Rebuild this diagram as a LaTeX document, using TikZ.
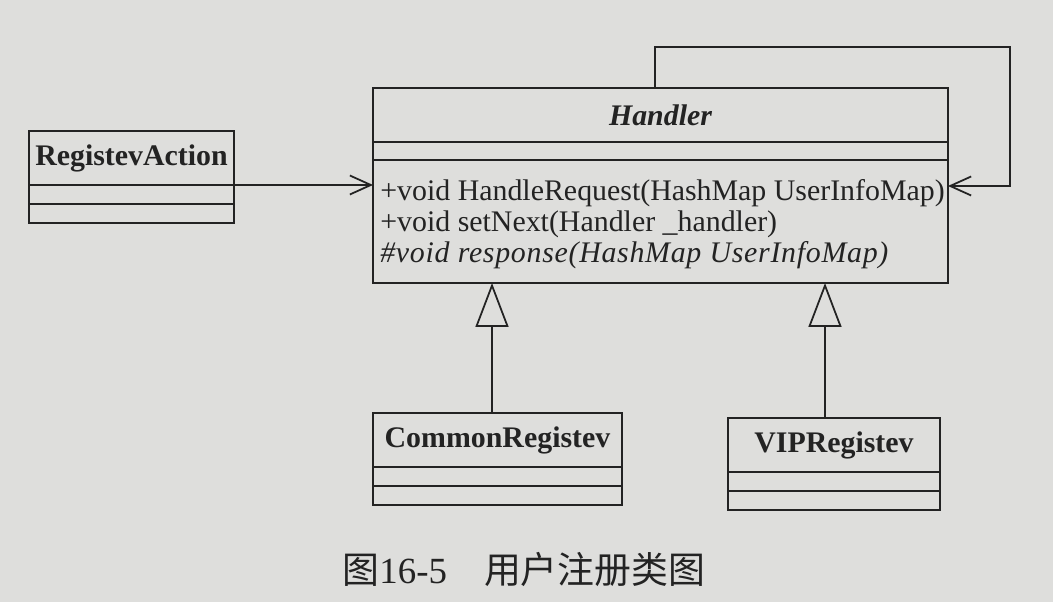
\documentclass[tikz,border=0pt]{standalone}
\usepackage{fontspec}
\setmainfont{Liberation Serif}
\newfontfamily\cjk{Noto Sans CJK SC}
\usetikzlibrary{arrows.meta,positioning}
\definecolor{bgpaper}{RGB}{222,222,220}
\definecolor{ink}{RGB}{35,35,35}

\begin{document}
\begin{tikzpicture}[
  classtitle/.style={draw=ink, line width=1pt, inner sep=0pt, outer sep=0pt, minimum height=1.08cm, text=ink, font=\fontsize{17}{19}\selectfont\bfseries},
  compart/.style={draw=ink, line width=1pt, inner sep=0pt, outer sep=0pt, minimum height=0.38cm},
  methods/.style={inner sep=0pt, align=left, text=ink, font=\fontsize{17}{17.8}\selectfont},
  assoc/.style={draw=ink, line width=1pt, -{Straight Barb[length=0.42cm,width=0.38cm]}},
  inherit/.style={draw=ink, line width=1pt, -{Triangle[length=0.88cm,width=0.66cm,fill=bgpaper]}}
]

% Background
\fill[bgpaper] (0,0) rectangle (21.06,12.04);
\useasboundingbox (0,0) rectangle (21.06,12.04);

% === HANDLER (abstract) ===
\node[classtitle, minimum width=11.5cm, anchor=north west, font=\fontsize{17}{19}\selectfont\bfseries\itshape] (handler) at (7.46,10.28) {Handler};
\node[compart, minimum width=11.5cm, minimum height=0.36cm, below=0pt of handler] (handler-attr) {};
\node[compart, minimum width=11.5cm, minimum height=2.46cm, below=0pt of handler-attr] (handler-ops) {};
\node[methods, anchor=north west] (handler-text) at (7.60,8.46) {+void HandleRequest(HashMap UserInfoMap)\\
  +void setNext(Handler \_handler)\\
  {\itshape\addfontfeatures{LetterSpace=2.4}\#void response(HashMap UserInfoMap)}};

% === PLAIN CLASSES ===
\foreach \n/\t/\x/\y/\w in {action/RegistevAction/0.58/9.42/4.10,
    common/CommonRegistev/7.46/3.78/4.98,
    vip/VIPRegistev/14.56/3.68/4.24} {
  \node[classtitle, minimum width=\w cm, anchor=north west] (\n) at (\x,\y) {\t};
  \node[compart, minimum width=\w cm, below=0pt of \n] (\n-attr) {};
  \node[compart, minimum width=\w cm, below=0pt of \n-attr] (\n-ops) {};
}

% === ASSOCIATIONS ===
\draw[assoc] (action.south east) -- (action.south east -| handler-ops.west);

\coordinate (loopcorner) at (13.10,11.10);
\coordinate (loopside) at (20.20,8.32);
\draw[assoc] (loopcorner |- handler.north) -- (loopcorner) -| (loopside) -- (loopside -| handler-ops.east);

% === INHERITANCE ===
\coordinate (commontop) at ([xshift=-0.11cm]common.north);
\coordinate (viptop) at ([xshift=-0.18cm]vip.north);
\draw[inherit] (commontop) -- (commontop |- handler-ops.south);
\draw[inherit] (viptop) -- (viptop |- handler-ops.south);

% Caption
\node[font=\fontsize{21}{24}\selectfont, text=ink] (caption) at (10.48,0.64) {\cjk 图{\rmfamily 16-5}\quad 用户注册类图};

\end{tikzpicture}
\end{document}
